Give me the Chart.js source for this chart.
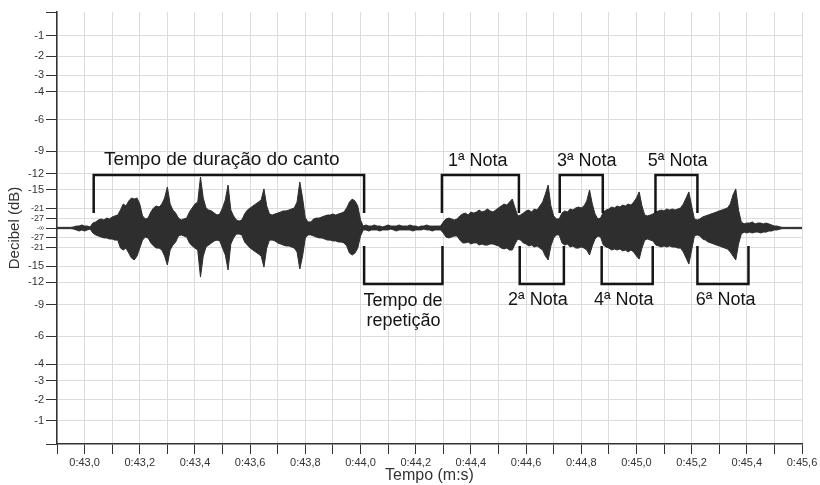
<!DOCTYPE html>
<html><head><meta charset="utf-8">
<script src="https://cdn.jsdelivr.net/npm/chart.js@4/dist/chart.umd.min.js"></script>
<style>html,body{margin:0;padding:0;background:#fff}</style>
</head><body>
<canvas id="c" width="820" height="485"></canvas>
<script>
// Time axis (seconds, shown as m:s) – one envelope sample every 0.01 s
const timeStart = 42.90;
const timeStep = 0.01;

// Upper envelope of the waveform (normalised amplitude, full scale = 1)
const upperEnv = [
.003,.003,.003,.003,.003,.003,
.005,.009,.009,.014,.009,.009,.005,
.023,
.028,.037,.042,.037,.046,.042,.051,.056,.060,
.083,.111,.102,
.125,.139,.134,.139,.111,
.056,.042,.046,
.074,.093,.102,.097,.111,
.139,.190,
.111,.083,.069,
.046,.037,.042,.046,
.074,.093,.111,.120,
.236,
.139,
.093,.083,.079,.069,
.060,.065,
.093,.130,
.199,
.083,.056,
.037,.032,.037,
.065,.083,.093,.102,.111,
.120,.130,
.181,
.102,.065,
.060,.065,.069,.074,.079,.079,.083,.088,
.093,.120,
.213,
.139,
.046,
.028,.028,
.042,.046,.046,.051,.056,.060,.060,.065,.060,.065,.069,.074,
.093,.120,.134,.125,.102,
.037,
.009,.014,.009,.009,.014,.009,.009,.005,.009,.014,.009,.009,.009,.014,.009,
.009,.009,.014,.009,.009,.005,.009,.009,.014,.009,.009,.009,.009,.009,
.028,
.042,.046,.042,.037,.042,
.056,.065,.069,.060,.074,.069,
.074,.083,.074,.079,.088,.079,.074,.083,
.093,.102,.111,.106,.120,.134,
.093,
.056,.060,
.069,.079,.083,.074,.088,.083,
.102,
.120,.157,.199,.102,
.056,
.042,.042,
.069,.079,.074,.088,.083,.093,.097,.093,
.102,.125,.176,.111,.065,
.042,.046,
.074,.083,.088,.097,.093,.102,.097,.106,.102,.111,.106,
.120,.139,.167,.102,
.060,.056,.060,.065,
.074,.079,.083,.079,.088,.083,.088,
.083,.088,.093,
.111,.139,.167,.102,
.042,.037,.042,
.051,.056,.060,.065,.069,.074,.079,.083,.088,
.093,.111,.153,.181,.083,.028,
.019,.023,.023,.028,.019,.023,.023,.019,.023,.019,
.014,.009,.009,.005,
.003,.003,.003,.003,.003,.003,.003,.003
];

// Lower envelope of the waveform (normalised amplitude)
const lowerEnv = [
-.003,-.003,-.003,-.003,-.003,-.003,
-.005,-.009,-.014,-.009,-.014,-.009,-.005,
-.023,
-.032,-.037,-.042,-.046,-.046,-.051,-.051,-.056,-.056,
-.093,-.102,-.093,
-.116,-.139,-.148,-.130,-.093,
-.056,-.042,-.046,
-.069,-.083,-.093,-.093,-.102,
-.130,-.171,
-.102,-.079,-.065,
-.037,-.032,-.037,-.042,
-.069,-.083,-.093,-.102,
-.227,
-.130,
-.088,-.079,-.069,-.060,
-.056,-.060,
-.093,-.125,
-.194,
-.074,-.046,
-.028,-.028,-.032,
-.065,-.079,-.093,-.102,-.111,
-.120,-.130,
-.181,
-.093,-.056,
-.056,-.060,-.069,-.074,-.079,-.083,-.083,-.088,
-.093,-.111,
-.190,
-.130,
-.046,
-.032,-.032,
-.037,-.042,-.046,-.046,-.051,-.056,-.056,-.060,-.060,-.065,-.065,-.069,
-.083,-.116,-.125,-.116,-.093,
-.037,
-.009,-.009,-.014,-.009,-.009,-.009,-.014,-.009,-.009,-.009,-.005,-.009,-.014,-.009,-.009,
-.009,-.009,-.009,-.014,-.009,-.009,-.009,-.005,-.009,-.009,-.014,-.009,-.009,-.009,
-.023,
-.042,-.046,-.042,-.037,-.037,
-.056,-.069,-.069,-.065,-.074,-.069,
-.069,-.079,-.074,-.079,-.079,-.074,-.074,-.079,
-.083,-.093,-.097,-.093,-.102,-.102,
-.074,
-.051,-.056,
-.069,-.074,-.083,-.079,-.088,-.083,
-.093,
-.102,-.130,-.148,-.083,
-.046,
-.032,-.032,
-.069,-.079,-.074,-.088,-.083,-.093,-.093,-.088,
-.093,-.102,-.125,-.083,-.051,
-.037,-.042,
-.079,-.088,-.093,-.102,-.097,-.102,-.097,-.106,-.102,-.111,-.102,
-.111,-.130,-.144,-.093,
-.056,-.051,-.056,-.060,
-.079,-.083,-.088,-.083,-.088,-.083,-.088,
-.088,-.093,-.093,
-.111,-.139,-.167,-.102,
-.037,-.032,-.037,
-.051,-.056,-.065,-.069,-.074,-.079,-.083,-.088,-.093,
-.097,-.111,-.130,-.148,-.074,-.028,
-.019,-.023,-.019,-.023,-.019,-.019,-.023,-.019,-.019,-.014,
-.014,-.009,-.009,-.005,
-.003,-.003,-.003,-.003,-.003,-.003,-.003,-.003
];

// Axis ticks
const xTickTenths = [429,430,431,432,433,434,435,436,437,438,439,440,441,442,443,444,445,446,447,448,449,450,451,452,453,454,455,456];
const yTickDb = [0, -1, -2, -3, -4, -6, -9, -12, -15, -21, -27];
const yTickLabels = ['', '-1', '-2', '-3', '-4', '-6', '-9', '-12', '-15', '-21', '-27'];
const yCenterLabel = '-\u221E';

// Annotations (time in s, amplitude)
const topBrackets = [[43.033, 44.013], [44.295, 44.574], [44.722, 44.878], [45.069, 45.221]];
const bottomBrackets = [[44.013, 44.297], [44.577, 44.737], [44.874, 45.059], [45.221, 45.406]];
const topBracketLevels = [0.245, 0.069];
const bottomBracketLevels = [-0.259, -0.083];
const annoTexts = ['Tempo de duração do canto', '1ª Nota', '3ª Nota', '5ª Nota', '2ª Nota', '4ª Nota', '6ª Nota', 'Tempo de', 'repetição'];
const annoX = [43.497, 44.425, 44.820, 45.149, 44.643, 44.954, 45.323, 44.154, 44.156];
const annoY = [0.292, 0.287, 0.287, 0.287, -0.356, -0.356, -0.356, -0.361, -0.454];

// ---- build structures ----
const FONT = '"Liberation Sans", Arial, sans-serif';
Chart.defaults.font.family = FONT;

const upperPts = upperEnv.map((v, i) => ({x: Math.round((timeStart + i * timeStep) * 1000) / 1000, y: v}));
const lowerPts = lowerEnv.map((v, i) => ({x: Math.round((timeStart + i * timeStep) * 1000) / 1000, y: v}));

const yTicks = [];
yTickDb.forEach((db, i) => {
  const a = Math.pow(10, db / 20);
  yTicks.push({value: a, label: yTickLabels[i], db});
  yTicks.push({value: -a, label: yTickLabels[i], db});
});
yTicks.push({value: 0, label: yCenterLabel, db: -Infinity});
yTicks.sort((a, b) => a.value - b.value);

const annoPlugin = {
  id: 'anno',
  afterDatasetsDraw(chart) {
    const {ctx, scales: {x, y}} = chart;
    ctx.save();
    ctx.strokeStyle = '#151515';
    ctx.lineWidth = 2.5;
    ctx.lineJoin = 'miter';
    const drawB = (b, lv) => {
      const x0 = x.getPixelForValue(b[0]), x1 = x.getPixelForValue(b[1]);
      const yb = y.getPixelForValue(lv[0]), ye = y.getPixelForValue(lv[1]);
      ctx.beginPath();
      ctx.moveTo(x0, ye); ctx.lineTo(x0, yb); ctx.lineTo(x1, yb); ctx.lineTo(x1, ye);
      ctx.stroke();
    };
    topBrackets.forEach(b => drawB(b, topBracketLevels));
    bottomBrackets.forEach(b => drawB(b, bottomBracketLevels));
    ctx.fillStyle = '#151515';
    ctx.textAlign = 'center';
    ctx.textBaseline = 'alphabetic';
    annoTexts.forEach((t, i) => {
      ctx.font = (i === 0 ? '19px ' : '18px ') + FONT;
      ctx.fillText(t, x.getPixelForValue(annoX[i]), y.getPixelForValue(annoY[i]));
    });
    ctx.restore();
  }
};

new Chart(document.getElementById('c'), {
  type: 'line',
  data: {
    datasets: [
      {data: upperPts, borderColor: '#2e2e2e', backgroundColor: '#2e2e2e', borderWidth: 1, pointRadius: 0, tension: 0, fill: '+1'},
      {data: lowerPts, borderColor: '#2e2e2e', backgroundColor: '#2e2e2e', borderWidth: 1, pointRadius: 0, tension: 0, fill: false}
    ]
  },
  options: {
    responsive: false,
    animation: false,
    events: [],
    layout: {padding: {top: 12, right: 18, left: 0, bottom: 0}},
    plugins: {legend: {display: false}, tooltip: {enabled: false}},
    scales: {
      x: {
        type: 'linear', min: 42.9, max: 45.6,
        afterBuildTicks: s => { s.ticks = xTickTenths.map(k => ({value: k / 10})); },
        afterFit: s => { s.height = 41; },
        grid: {color: '#dcdcdc', tickColor: '#333', tickLength: 10, lineWidth: 1},
        border: {color: '#333', width: 1.5},
        ticks: {
          autoSkip: false, maxRotation: 0, padding: 2, color: '#333', font: {size: 11},
          callback: (v) => {
            const k = Math.round(v * 10);
            if (k % 2 !== 0) return '';
            return '0:' + Math.floor(k / 10) + ',' + (k % 10);
          }
        },
        title: {display: true, text: 'Tempo (m:s)', color: '#333', font: {size: 16}, padding: {top: 0, bottom: 0}}
      },
      y: {
        type: 'linear', min: -1, max: 1,
        afterBuildTicks: s => { s.ticks = yTicks.map(t => ({value: t.value})); },
        afterFit: s => { s.width = 57; },
        grid: {
          color: (c) => (c.tick && Math.abs(c.tick.value) > 0.999) ? 'rgba(0,0,0,0)' : '#dcdcdc',
          tickColor: '#333', tickLength: 11, lineWidth: 1
        },
        border: {color: '#333', width: 1.5},
        ticks: {
          autoSkip: false, padding: 2, color: '#333',
          font: (c) => {
            const v = c.tick ? Math.abs(c.tick.value) : 1;
            if (v < 0.001) return {size: 7};
            if (v < 0.1) return {size: 9};
            return {size: 11};
          },
          callback: (v, i) => yTicks[i] ? yTicks[i].label : ''
        },
        title: {display: true, text: 'Decibel (dB)', color: '#333', font: {size: 15}, padding: {top: 6, bottom: 0}}
      }
    }
  },
  plugins: [annoPlugin]
});
</script>
</body></html>
